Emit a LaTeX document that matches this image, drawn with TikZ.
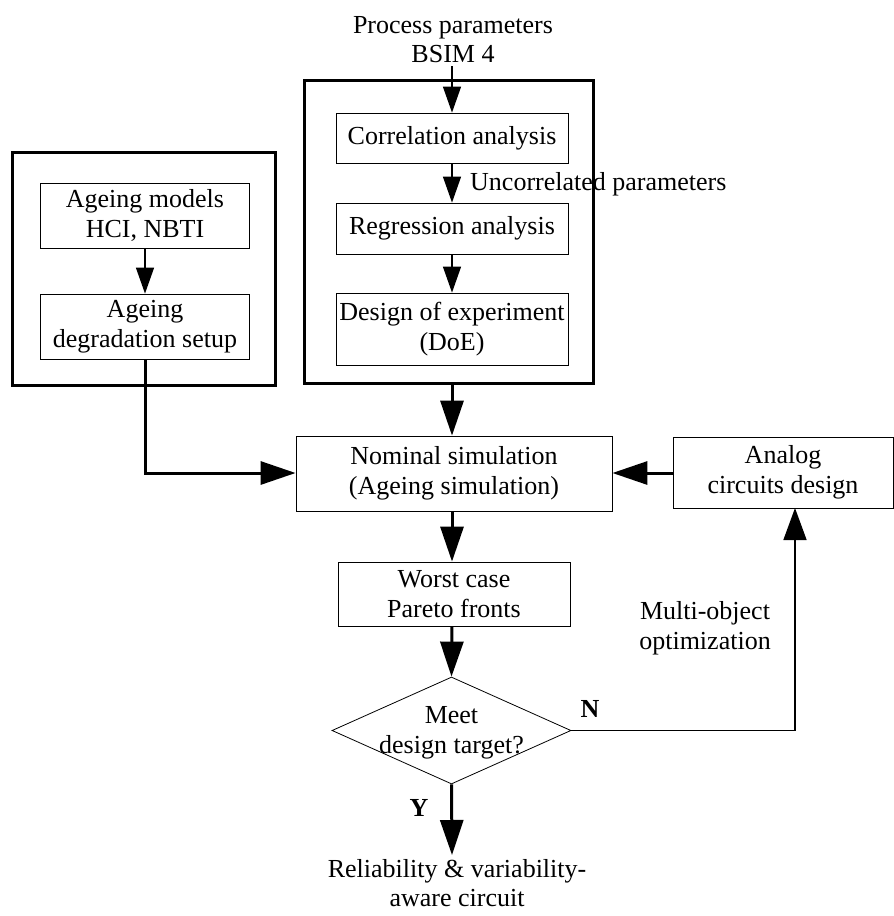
\documentclass[tikz,border=0pt]{standalone}
\usepackage{fontspec}
\setmainfont{Liberation Serif}
\usetikzlibrary{arrows.meta,shapes.geometric}
\begin{document}
\begin{tikzpicture}[x=1pt,y=-1pt,
  txt/.style={font=\fontsize{26}{29.5}\selectfont, align=center, inner sep=0pt},
  box/.style={txt, draw, line width=0.8pt},
  frame/.style={draw, line width=3pt},
  thinarr/.style={line width=1.3pt, -{Triangle[length=26pt,width=18pt]}},
  thickarr/.style={line width=3pt, -{Triangle[length=35pt,width=23pt]}},
  midarr/.style={line width=1.5pt, -{Triangle[length=32pt,width=23pt]}}]
\useasboundingbox (0,0) rectangle (894,916);
% frames
\draw[frame] (12,152) rectangle (275,385);
\draw[frame] (304,80) rectangle (593,383);
\coordinate (rfb) at (452,383);
% left column
\node[box, minimum width=209pt, minimum height=65pt] (am) at (145,215.5) {Ageing models\\HCI, NBTI};
\node[box, minimum width=209pt, minimum height=65pt] (ad) at (145,326.5) {Ageing\\degradation setup};
% right column
\node[txt, anchor=south] (pp) at (453,63) {Process parameters\\BSIM 4};
\node[box, minimum width=232pt, minimum height=50pt] (ca) at (452,138) {Correlation analysis};
\node[box, minimum width=232pt, minimum height=51pt] (ra) at (452,228.5) {Regression analysis};
\node[box, minimum width=232pt, minimum height=72pt] (doe) at (452,329) {Design of experiment\\(DoE)};
\node[txt, anchor=west] (uc) at (470,184) {Uncorrelated parameters};
% middle
\node[box, minimum width=316pt, minimum height=75pt] (nom) at (454,473.5) {Nominal simulation\\(Ageing simulation)};
\node[box, minimum width=220pt, minimum height=71pt] (an) at (783,472.5) {Analog\\circuits design};
\node[box, minimum width=232pt, minimum height=64pt] (wc) at (454,594) {Worst case\\Pareto fronts};
\node[diamond, draw, line width=0.8pt, minimum width=239pt, minimum height=107pt, inner sep=0pt] (dec) at (451.5,730.5) {};
\node[txt] (dect) at (451.5,733) {Meet\\design target?};
\node[txt, anchor=north] (rel) at (457,859) {Reliability \& variability-\\aware circuit};
\node[txt] (mo) at (705,628) {Multi-object\\optimization};
\node[txt, font=\fontsize{26}{29.5}\selectfont\bfseries] (nl) at (590,709) {N};
\node[txt, font=\fontsize{26}{29.5}\selectfont\bfseries] (yl) at (419,808) {Y};
\coordinate (corner1) at (145,473);
\coordinate (corner2) at (795,730.5);
\coordinate (anb) at (795,508);
% connectors
\draw[thinarr] (am.south) -- (ad.north);
\draw[thinarr] (452,66) -- (ca.north);
\draw[thinarr] (ca.south -| 452,0) -- (ra.north -| 452,0);
\draw[thinarr] (ra.south -| 452,0) -- (doe.north -| 452,0);
\draw[thickarr] (rfb) -- (nom.north -| rfb);
\draw[thickarr] (ad.south) -- (corner1) -- (nom.west |- corner1);
\draw[thickarr] (an.west |- 0,473) -- (nom.east |- 0,473);
\draw[thickarr] (nom.south -| rfb) -- (wc.north -| rfb);
\draw[thickarr] (wc.south -| rfb) -- (dec.north);
\draw[thickarr] (dec.south) -- (452,855);
\draw[midarr] (dec.east) -- (corner2) -- (anb);
\end{tikzpicture}
\end{document}
